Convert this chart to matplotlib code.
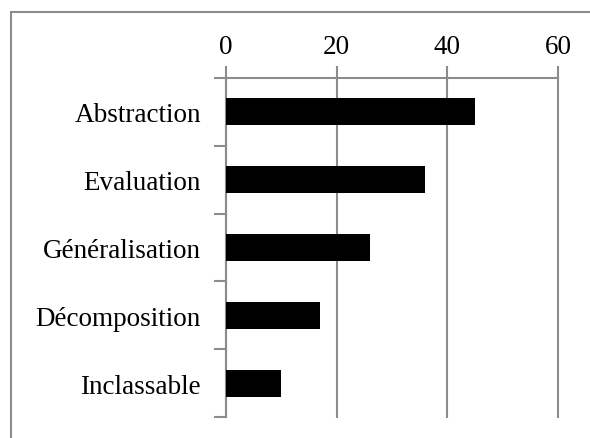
import numpy as np
import matplotlib.pyplot as plt
from matplotlib.patches import Rectangle

categories = ["Abstraction", "Evaluation", "Généralisation", "Décomposition", "Inclassable"]
values = [45, 36, 26, 17, 10]
xticks = [0, 20, 40, 60]

grey = "#8c8c8c"
plt.rcParams['font.family'] = ['Liberation Serif', 'DejaVu Serif']

fig = plt.figure(figsize=(5.9, 4.39), dpi=100)
ax = fig.add_axes([226/590, 1-418/439, (558-226)/590, (418-79)/439])

y = np.arange(len(categories))
ax.barh(y, values, height=0.4, color="black", zorder=3)

ax.set_xlim(0, 60)
ax.set_ylim(len(categories)-0.5, -0.5)
ax.xaxis.tick_top()
ax.set_xticks(xticks)
ax.set_xticklabels([str(t) for t in xticks], fontsize=19.5)
ax.tick_params(axis='x', length=9, width=1.5, color=grey, pad=4.5)
ax.grid(axis='x', color=grey, linewidth=1.5, zorder=0)
for gl in ax.get_xgridlines():
    gl.set_clip_on(False)

ax.set_yticks(y)
ax.set_yticklabels(categories, fontsize=19.5)
ax.set_yticks(np.arange(len(categories)+1)-0.5, minor=True)
ax.tick_params(axis='y', which='major', length=0, pad=18)
ax.tick_params(axis='y', which='minor', length=9, width=1.5, color=grey)

for s in ['right', 'bottom']:
    ax.spines[s].set_visible(False)
for s in ['top', 'left']:
    ax.spines[s].set_color(grey)
    ax.spines[s].set_linewidth(1.5)

# outer frame
fig.patches.append(Rectangle((11/590, -0.1), 1.2, 1-13/439+0.1, transform=fig.transFigure,
                             fill=False, edgecolor=grey, linewidth=1.5))

fig.savefig("out.png", dpi=100)
